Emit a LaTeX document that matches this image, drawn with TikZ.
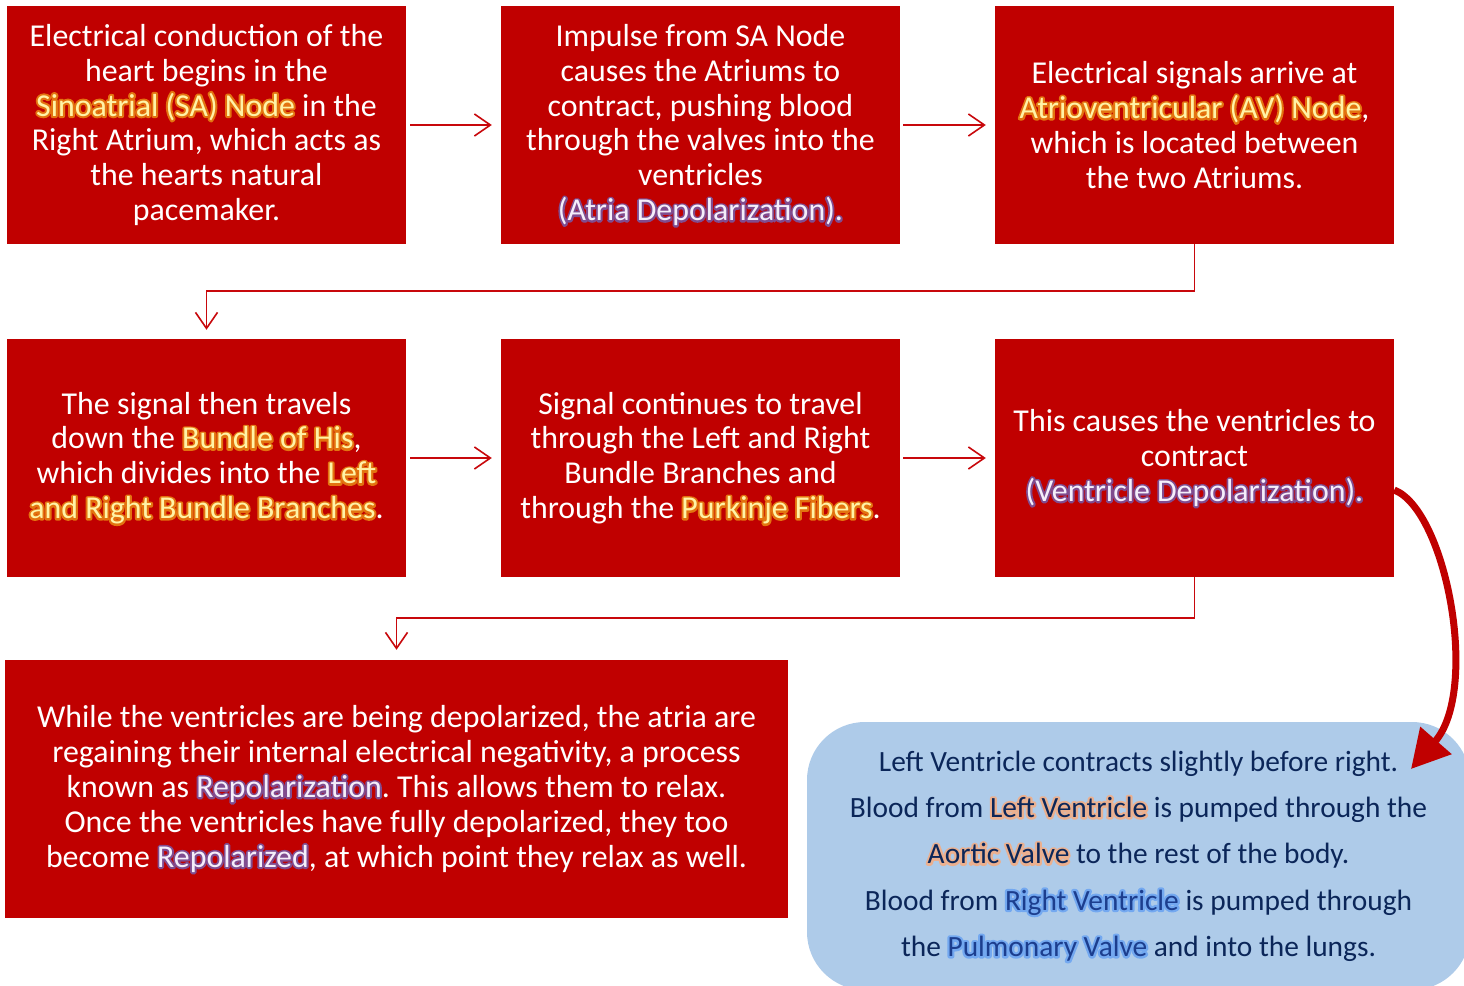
\documentclass[tikz,border=0pt]{standalone}
\usepackage{fontspec}
\setmainfont{Carlito}
\usetikzlibrary{arrows.meta}
\frenchspacing
\definecolor{boxred}{HTML}{C00000}
\definecolor{linered}{HTML}{C8080C}
\definecolor{hlyel}{HTML}{FFF3A6}
\definecolor{hlpurtext}{HTML}{F4EEFA}
\definecolor{bluefill}{HTML}{AECBE9}
\definecolor{navy}{HTML}{0B2659}
\definecolor{bluetext}{HTML}{1C3E8E}
% glow: a stroked copy of the text (PDF text render mode 1) under the filled text
\newcommand\glowtext[4]{% #1 stroke rgb, #2 stroke width, #3 text colour, #4 text
  \leavevmode\rlap{\special{pdf:literal direct 1 Tr #2 w 1 j 1 J #1 RG}#4\special{pdf:literal direct 0 Tr}}%
  \textcolor{#3}{#4}}
\newcommand\hlY[1]{\glowtext{0.89 0.45 0.06}{4}{hlyel}{#1}}
\newcommand\hlP[1]{\glowtext{0.50 0.30 0.56}{3.8}{hlpurtext}{#1}}
\newcommand\hlO[1]{\glowtext{0.92 0.69 0.56}{4.4}{navy}{#1}}
\newcommand\hlB[1]{\glowtext{0.45 0.66 0.94}{4.4}{bluetext}{#1}}
\tikzset{
  redbox/.style={fill=boxred, text=white, minimum width=399bp, minimum height=238bp,
    align=center, inner sep=0pt, font=\fontsize{32}{35}\selectfont},
  conn/.style={draw=linered, line width=1.6bp,
    -{Straight Barb[length=16bp,width=22bp,line width=1.6bp]}},
  bigarrow/.style={draw=boxred, line width=7bp,
    -{Triangle[length=38bp,width=40bp]}},
  bluebox/.style={fill=bluefill, rounded corners=58bp, minimum width=663bp,
    minimum height=268bp, align=center, inner sep=0pt, text=navy,
    font=\fontsize{29.5}{46.5}\selectfont}
}
\begin{document}
\begin{tikzpicture}[x=1bp,y=-1bp]
\useasboundingbox (0,0) rectangle (1464,985);
\fill[white] (0,0) rectangle (1464,985);
\begin{scope}
\clip (0,0) rectangle (1464,985);
\node[bluebox] (b8) at (1138.5,856) {Left Ventricle contracts slightly before right.\\
Blood from \hlO{Left Ventricle} is pumped through the\\
\hlO{Aortic Valve} to the rest of the body.\\
Blood from \hlB{Right Ventricle} is pumped through\\
the \hlB{Pulmonary Valve} and into the lungs.};
\end{scope}

\node[redbox] (b1) at (206.5,125) {Electrical conduction of the\\
heart begins in the\\
\hlY{Sinoatrial (SA) Node} in the\\
Right Atrium, which acts as\\
the hearts natural\\
pacemaker.};
\node[redbox] (b2) at (700.5,125) {Impulse from SA Node\\
causes the Atriums to\\
contract, pushing blood\\
through the valves into the\\
ventricles\\
\hlP{(Atria Depolarization).}};
\node[redbox] (b3) at (1194.5,125) {Electrical signals arrive at\\
\hlY{Atrioventricular (AV) Node},\\
which is located between\\
the two Atriums.};
\node[redbox] (b4) at (206.5,458) {The signal then travels\\
down the \hlY{Bundle of His},\\
which divides into the \hlY{Left}\\
\hlY{and Right Bundle Branches}.};
\node[redbox] (b5) at (700.5,458) {Signal continues to travel\\
through the Left and Right\\
Bundle Branches and\\
through the \hlY{Purkinje Fibers}.};
\node[redbox] (b6) at (1194.5,458) {This causes the ventricles to\\
contract\\
\hlP{(Ventricle Depolarization).}};
\node[redbox, minimum width=783bp, minimum height=258bp] (b7) at (396.5,789)
{While the ventricles are being depolarized, the atria are\\
regaining their internal electrical negativity, a process\\
known as \hlP{Repolarization}. This allows them to relax.\\
Once the ventricles have fully depolarized, they too\\
become \hlP{Repolarized}, at which point they relax as well.};

\draw[conn, shorten <=4bp, shorten >=9bp] (b1.east) -- (b2.west);
\draw[conn, shorten <=3bp, shorten >=9bp] (b2.east) -- (b3.west);
\draw[conn, shorten <=4bp, shorten >=9bp] (b4.east) -- (b5.west);
\draw[conn, shorten <=3bp, shorten >=9bp] (b5.east) -- (b6.west);
\draw[conn, shorten >=9bp] (b3.south) -- ++(0,47) -| (b4.north);
\draw[conn, shorten >=10bp] (b6.south) -- ++(0,41) -| (b7.north);

\coordinate (tip) at (1411,769);
\draw[bigarrow] ([yshift=-32bp]b6.east) .. controls (1446,510) and (1480,690) .. (tip);
\end{tikzpicture}
\end{document}
